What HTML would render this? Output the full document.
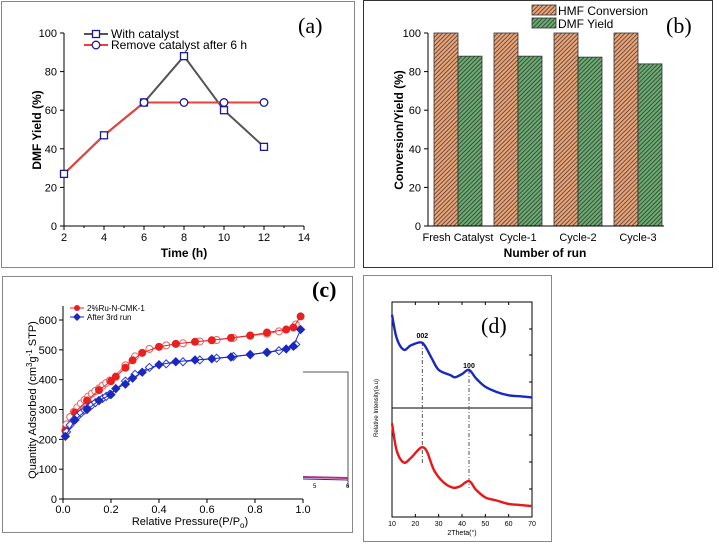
<!DOCTYPE html>
<html><head><meta charset="utf-8"><style>
body{margin:0;background:#fff;}
svg{display:block;font-family:"Liberation Sans",Arial,sans-serif;}
</style></head><body>
<svg id="fig" width="719" height="545" viewBox="0 0 719 545">
<defs>
<pattern id="hatchO" patternUnits="userSpaceOnUse" width="3" height="3" patternTransform="rotate(45)"><rect width="3" height="3" fill="#e6a77c"/><line x1="0.5" y1="0" x2="0.5" y2="3" stroke="#6a4030" stroke-width="0.9"/></pattern>
<pattern id="hatchG" patternUnits="userSpaceOnUse" width="3" height="3" patternTransform="rotate(45)"><rect width="3" height="3" fill="#70aa75"/><line x1="0.5" y1="0" x2="0.5" y2="3" stroke="#2a4a2e" stroke-width="0.9"/></pattern>
</defs>
<rect x="1.5" y="1.5" width="353" height="266" fill="none" stroke="#888"/>
<rect x="363.5" y="0.5" width="349" height="267" fill="none" stroke="#333"/>
<rect x="2.5" y="276.5" width="350" height="256" fill="none" stroke="#888"/>
<rect x="363.5" y="275.5" width="188" height="266" fill="none" stroke="#888"/>
<g id="ga"></g>
<g id="gb"></g>
<g id="gc"></g>
<g id="gd"></g>
</svg>
<script>
// Panel a data
const aTime=[2,4,6,8,10,12];
const aWith=[27,47,64,88,60,41];
const aRemove=[27,47,64,64,64,64];
const aXTicks=[2,4,6,8,10,12,14];
const aYTicks=[0,20,40,60,80,100];
// Panel b data
const bCats=["Fresh Catalyst","Cycle-1","Cycle-2","Cycle-3"];
const bConv=[100,100,100,100];
const bYield=[88,88,87.5,84];
const bYTicks=[0,20,40,60,80,100];
// Panel c data
const cAdsP=[0.01,0.05,0.1,0.15,0.2,0.22,0.26,0.29,0.33,0.4,0.47,0.55,0.62,0.7,0.78,0.85,0.93,0.96,0.99];
const cRedAds=[230,290,330,365,395,410,440,465,490,510,520,527,532,540,548,558,568,575,612];
const cDesP=[0.015,0.03,0.045,0.06,0.075,0.09,0.105,0.12,0.135,0.15,0.165,0.18,0.195,0.26,0.3,0.36,0.43,0.5,0.57,0.64,0.71,0.78,0.85,0.9,0.97];
const cRedDes=[250,275,292,307,320,332,343,353,362,371,380,389,397,448,478,503,515,522,528,533,540,547,554,562,585];
const cBlueAds=[210,265,300,330,350,370,385,405,425,450,460,466,470,476,484,492,503,512,568];
const cBlueDes=[225,248,265,277,288,298,307,315,323,330,337,344,351,395,418,441,453,460,466,472,478,484,491,497,518];
const cXTicks=[0,0.2,0.4,0.6,0.8,1.0];
const cYTicks=[0,100,200,300,400,500,600];
// Panel d data
const dTheta=[10,12,15,18,22,24,27,30,35,37,40,43,46,50,55,60,65,70];
const dBlue=[88,66,55,59,62,59,47,36,31,29,32,36,28,20,15,12,11,10];
const dThetaR=[10,12,15,18,21,23,25,28,32,36,39,43,46,50,55,60,65,70];
const dRed=[86,61,50,54,61,64,60,43,32,27,28,33,25,18,15,12,11,10];
const dXTicks=[10,20,30,40,50,60,70];
const dPeaks=[23,43];
const dPeakLabels=["002","100"];

const NS="http://www.w3.org/2000/svg";
function mk(p,tag,at,txt){const e=document.createElementNS(NS,tag);for(const k in at)e.setAttribute(k,at[k]);if(txt!==undefined)e.textContent=txt;p.appendChild(e);return e;}
function smooth(pts){let d=`M${pts[0][0]} ${pts[0][1]}`;for(let i=0;i<pts.length-1;i++){const p0=pts[Math.max(0,i-1)],p1=pts[i],p2=pts[i+1],p3=pts[Math.min(pts.length-1,i+2)];
 d+=`C${p1[0]+(p2[0]-p0[0])/6} ${p1[1]+(p2[1]-p0[1])/6} ${p2[0]-(p3[0]-p1[0])/6} ${p2[1]-(p3[1]-p1[1])/6} ${p2[0]} ${p2[1]}`;}return d;}

// ---------- Panel a ----------
(function(){
const g=document.getElementById('ga');
const X=v=>64+(v-2)/12*240, Y=v=>226-v/100*193;
let e=mk(g,'path',{d:`M64 ${Y(100)}V226H304`,fill:'none',stroke:'#000','stroke-width':1});

aXTicks.forEach(t=>{mk(g,'line',{x1:X(t),x2:X(t),y1:226,y2:230,stroke:'#000'});
 e=mk(g,'text',{x:X(t),y:241,'font-size':11,'text-anchor':'middle'},t);
 });
aXTicks.slice(0,-1).forEach(t=>mk(g,'line',{x1:X(t+1),x2:X(t+1),y1:226,y2:228,stroke:'#000'}));
aYTicks.forEach(t=>{mk(g,'line',{x1:60,x2:64,y1:Y(t),y2:Y(t),stroke:'#000'});
 e=mk(g,'text',{x:57,y:Y(t)+4,'font-size':11,'text-anchor':'end'},t);
 });
e=mk(g,'text',{x:184,y:257,'font-size':12,'font-weight':'bold','text-anchor':'middle'},'Time (h)');

e=mk(g,'text',{x:0,y:0,'font-size':12,'font-weight':'bold','text-anchor':'middle',transform:'translate(41,130) rotate(-90)'},'DMF Yield (%)');

e=mk(g,'polyline',{points:aTime.map((t,i)=>X(t)+','+Y(aWith[i])).join(' '),fill:'none',stroke:'#555','stroke-width':2});

e=mk(g,'polyline',{points:aTime.map((t,i)=>X(t)+','+Y(aRemove[i])).join(' '),fill:'none',stroke:'#e8403a','stroke-width':2});

aTime.forEach((t,i)=>{e=mk(g,'rect',{x:X(t)-3.5,y:Y(aWith[i])-3.5,width:7,height:7,fill:'#fff',stroke:'#1a1a9a','stroke-width':1.3});
 });
aTime.forEach((t,i)=>{if(i<2)return;e=mk(g,'circle',{cx:X(t),cy:Y(aRemove[i]),r:3.8,fill:'#fff',stroke:'#1a1a9a','stroke-width':1.3});
 });
mk(g,'line',{x1:84,x2:108,y1:34,y2:34,stroke:'#555','stroke-width':2});
mk(g,'rect',{x:92.5,y:30.5,width:7,height:7,fill:'#fff',stroke:'#1a1a9a','stroke-width':1.3});
e=mk(g,'text',{x:111,y:38,'font-size':12},'With catalyst');
mk(g,'line',{x1:84,x2:108,y1:45,y2:45,stroke:'#e8403a','stroke-width':2});
mk(g,'circle',{cx:96,cy:45,r:3.8,fill:'#fff',stroke:'#1a1a9a','stroke-width':1.3});
e=mk(g,'text',{x:111,y:49,'font-size':12},'Remove catalyst after 6 h');
e=mk(g,'text',{x:298,y:33,'font-size':22,'font-family':'Liberation Serif,serif'},'(a)');
})();

// ---------- Panel b ----------
(function(){
const g=document.getElementById('gb');
const Y=v=>226-v/100*193, C=i=>458+i*60;
let e;
bCats.forEach((c,i)=>{
 e=mk(g,'rect',{x:C(i)-24,y:Y(bConv[i]),width:24,height:226-Y(bConv[i]),fill:'url(#hatchO)',stroke:'#333','stroke-width':0.8});
 
 e=mk(g,'rect',{x:C(i),y:Y(bYield[i]),width:24,height:226-Y(bYield[i]),fill:'url(#hatchG)',stroke:'#333','stroke-width':0.8});
 
 e=mk(g,'text',{x:C(i),y:241,'font-size':11,'text-anchor':'middle'},c);
 
});
e=mk(g,'path',{d:`M428 ${Y(100)}V226H664`,fill:'none',stroke:'#000'});
bYTicks.forEach(t=>{mk(g,'line',{x1:424,x2:428,y1:Y(t),y2:Y(t),stroke:'#000'});
 e=mk(g,'text',{x:421,y:Y(t)+4,'font-size':11,'text-anchor':'end'},t);});
e=mk(g,'text',{x:545,y:257,'font-size':12,'font-weight':'bold','text-anchor':'middle'},'Number of run');
e=mk(g,'text',{x:0,y:0,'font-size':12,'font-weight':'bold','text-anchor':'middle',transform:'translate(403,130) rotate(-90)'},'Conversion/Yield (%)');
mk(g,'rect',{x:532,y:5,width:24,height:10,fill:'url(#hatchO)',stroke:'#333','stroke-width':0.8});
e=mk(g,'text',{x:558,y:15,'font-size':12},'HMF Conversion');
mk(g,'rect',{x:532,y:18,width:24,height:10,fill:'url(#hatchG)',stroke:'#333','stroke-width':0.8});
e=mk(g,'text',{x:558,y:28,'font-size':12},'DMF Yield');
e=mk(g,'text',{x:666,y:33,'font-size':22,'font-family':'Liberation Serif,serif'},'(b)');
})();

// ---------- Panel c ----------
(function(){
const g=document.getElementById('gc');
const X=v=>63+v*240, Y=v=>499-v/600*179;
let e=mk(g,'path',{d:`M63 306V499H303`,fill:'none',stroke:'#000'});
cXTicks.forEach(t=>{mk(g,'line',{x1:X(t),x2:X(t),y1:499,y2:503,stroke:'#000'});
 e=mk(g,'text',{x:X(t),y:513,'font-size':11,'text-anchor':'middle'},t.toFixed(1));});
cYTicks.forEach(t=>{mk(g,'line',{x1:59,x2:63,y1:Y(t),y2:Y(t),stroke:'#000'});
 e=mk(g,'text',{x:57,y:Y(t)+4,'font-size':11,'text-anchor':'end'},t);});
e=mk(g,'text',{x:190,y:525,'font-size':11,'text-anchor':'middle'});e.innerHTML='Relative Pressure(P/P<tspan font-size="8" dy="3">o</tspan><tspan dy="-3">)</tspan>';

e=mk(g,'text',{x:0,y:0,'font-size':11,'text-anchor':'middle',transform:'translate(36,400) rotate(-90)'});
e.innerHTML='Quantity Adsorbed  (cm<tspan font-size="8" dy="-4">3</tspan><tspan dy="4">g</tspan><tspan font-size="8" dy="-4">-1</tspan><tspan dy="4"> STP)</tspan>';

mk(g,'path',{d:'M303 372H348V487',fill:'none',stroke:'#555'});
mk(g,'line',{x1:303,x2:348,y1:477,y2:478,stroke:'#b03080','stroke-width':2});
mk(g,'line',{x1:303,x2:348,y1:479,y2:480,stroke:'#2a2ab0','stroke-width':1});
mk(g,'text',{x:313,y:488,'font-size':6},'5');mk(g,'text',{x:346,y:488,'font-size':6},'6');
function series(P,V,col,filled,nm){
 e=mk(g,'polyline',{points:P.map((p,i)=>X(p)+','+Y(V[i])).join(' '),fill:'none',stroke:col,'stroke-width':1});
 
 P.forEach((p,i)=>{
  if(nm.indexOf('blue')>=0){const x=X(p),y=Y(V[i]);e=mk(g,'path',{d:`M${x} ${y-4}L${x+4} ${y}L${x} ${y+4}L${x-4} ${y}Z`,fill:filled?col:'#fff',stroke:col,'stroke-width':1});}
  else e=mk(g,'circle',{cx:X(p),cy:Y(V[i]),r:3.5,fill:filled?col:'#fff',stroke:col,'stroke-width':1});
  });
}
series(cDesP,cRedDes,'#f06060',false,'c-red-desorption');
series(cAdsP,cRedAds,'#e82020',true,'c-red-adsorption');
series(cDesP,cBlueDes,'#2a3ad0',false,'c-blue-desorption');
series(cAdsP,cBlueAds,'#1a28c0',true,'c-blue-adsorption');
mk(g,'line',{x1:70,x2:84,y1:308,y2:308,stroke:'#e82020'});mk(g,'circle',{cx:77,cy:308,r:3,fill:'#e82020'});
e=mk(g,'text',{x:87,y:311,'font-size':8},'2%Ru-N-CMK-1');
mk(g,'line',{x1:70,x2:84,y1:317,y2:317,stroke:'#1a28c0'});mk(g,'path',{d:'M77 313L81 317L77 321L73 317Z',fill:'#1a28c0'});
e=mk(g,'text',{x:87,y:320,'font-size':8},'After 3rd run');
e=mk(g,'text',{x:312,y:297,'font-size':22,'font-weight':'bold','font-family':'Liberation Serif,serif'},'(c)');
})();

// ---------- Panel d ----------
(function(){
const g=document.getElementById('gd');
const X=v=>392+(v-10)/60*140, YT=v=>408-v/100*106, YB=v=>517-v/100*109;
let e=mk(g,'rect',{x:392,y:302,width:140,height:215,fill:'none',stroke:'#000'});
mk(g,'line',{x1:392,x2:532,y1:408,y2:408,stroke:'#000'});
dXTicks.forEach(t=>{mk(g,'line',{x1:X(t),x2:X(t),y1:517,y2:514,stroke:'#000'});mk(g,'line',{x1:X(t),x2:X(t),y1:302,y2:305,stroke:'#000'});
 e=mk(g,'text',{x:X(t),y:526,'font-size':7,'text-anchor':'middle'},t);});
[329,355,382,435,462,489].forEach(y=>{mk(g,'line',{x1:529,x2:532,y1:y,y2:y,stroke:'#000'});});
e=mk(g,'text',{x:462,y:535,'font-size':7,'text-anchor':'middle'},'2Theta(°)');
e=mk(g,'text',{x:0,y:0,'font-size':6,'text-anchor':'middle',transform:'translate(378,408) rotate(-90)'},'Relative Intensity(a.u)');
dPeaks.forEach((p,i)=>{
 e=mk(g,'line',{x1:X(p),x2:X(p),y1:p===23?342:370,y2:p===23?465:488,stroke:'#555','stroke-dasharray':'4 2 1 2'});
 
 e=mk(g,'text',{x:X(p),y:p===23?338:368,'font-size':7,'font-weight':'bold','text-anchor':'middle'},dPeakLabels[i]);
 
});
e=mk(g,'path',{d:smooth(dTheta.map((t,i)=>[X(t),YT(dBlue[i])])),fill:'none',stroke:'#1a28c0','stroke-width':2.4,'stroke-linejoin':'round'});

e=mk(g,'path',{d:smooth(dThetaR.map((t,i)=>[X(t),YB(dRed[i])])),fill:'none',stroke:'#e81818','stroke-width':2.4,'stroke-linejoin':'round'});

e=mk(g,'text',{x:481,y:333,'font-size':22,'font-family':'Liberation Serif,serif'},'(d)');
})();
</script>
</body></html>
